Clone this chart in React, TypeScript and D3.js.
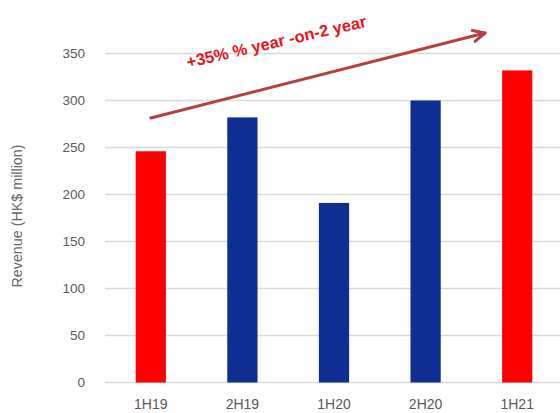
import React from "react";
import * as d3 from "d3";

const categories = ["1H19", "2H19", "1H20", "2H20", "1H21"];
const revenue = [246, 282, 191, 300, 332];
const barColors = ["#FF0000", "#0F2E94", "#0F2E94", "#0F2E94", "#FF0000"];
const yTicks = [0, 50, 100, 150, 200, 250, 300, 350];
const annotation = "+35% % year -on-2 year";
const yLabel = "Revenue (HK$ million)";

const W = 560;
const H = 413;

export default function App() {
  const x = d3.scaleBand<string>().domain(categories).range([105, 563]).paddingInner(0.67).paddingOuter(0.335);
  const y = d3.scaleLinear().domain([0, 350]).range([382.5, 53.5]);
  const font = "'Liberation Sans', Arial, sans-serif";

  const ax1 = x("1H19")! + x.bandwidth() / 2;
  const ay1 = 118;
  const ax2 = 485;
  const ay2 = 33;
  const ang = Math.atan2(ay2 - ay1, ax2 - ax1);
  const hl = 13;
  const hw = 0.45;

  return (
    <svg width={W} height={H} style={{ position: "absolute", left: 0, top: 0, background: "#fff" }}>
      {yTicks.map((t) => (
        <g key={t}>
          <line x1={105} x2={W} y1={y(t)} y2={y(t)} stroke="#D9D9D9" strokeWidth={1.3} />
          <text x={85} y={y(t)} dy="0.35em" textAnchor="end" fontFamily={font} fontSize={13.5} fill="#595959">
            {t}
          </text>
        </g>
      ))}
      {categories.map((c, i) => (
        <g key={c}>
          <rect x={x(c)} y={y(revenue[i])} width={x.bandwidth()} height={y(0) - y(revenue[i])} fill={barColors[i]} />
          <text x={x(c)! + x.bandwidth() / 2} y={404} dy="0.35em" textAnchor="middle" fontFamily={font} fontSize={14} fill="#595959">
            {c}
          </text>
        </g>
      ))}
      <text
        transform={`translate(22,216) rotate(-90)`}
        textAnchor="middle"
        fontFamily={font}
        fontSize={14.3}
        fill="#666666"
      >
        {yLabel}
      </text>
      <line x1={ax1} y1={ay1} x2={ax2} y2={ay2} stroke="#B5403F" strokeWidth={3} strokeLinecap="round" />
      <path
        d={`M${ax2 - hl * Math.cos(ang - hw)},${ay2 - hl * Math.sin(ang - hw)} L${ax2},${ay2} L${ax2 - hl * Math.cos(ang + hw)},${ay2 - hl * Math.sin(ang + hw)}`}
        fill="none"
        stroke="#B5403F"
        strokeWidth={3}
        strokeLinecap="round"
        strokeLinejoin="round"
      />
      <text
        transform={`translate(188,68) rotate(-13)`}
        fontFamily={font}
        fontWeight="bold"
        fontSize={16.5}
        fill="#E8141C"
      >
        {annotation}
      </text>
    </svg>
  );
}
